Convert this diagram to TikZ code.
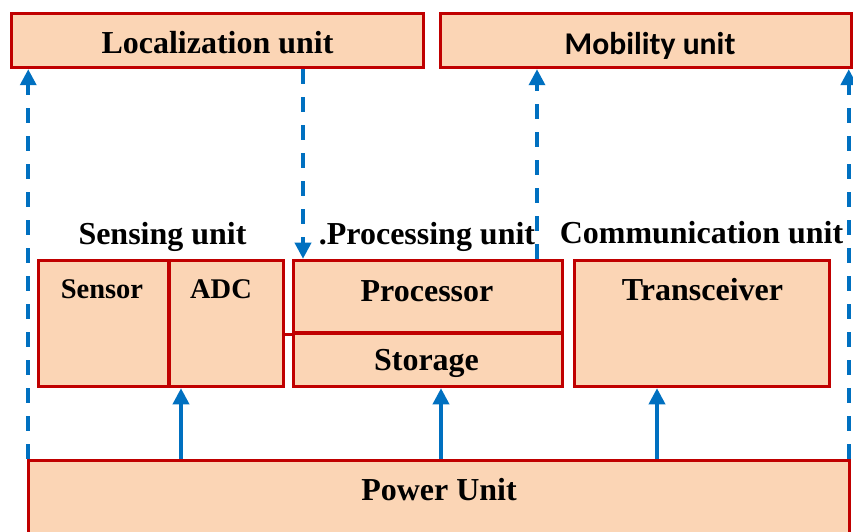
\documentclass[tikz,border=0pt]{standalone}
\usepackage{fontspec}
\setmainfont{Liberation Serif}
\newfontfamily\calibrifont{Carlito}
\usetikzlibrary{arrows.meta,positioning}
\definecolor{unit_red}{RGB}{192,0,0}
\definecolor{unit_fill}{RGB}{251,213,181}
\definecolor{link_blue}{RGB}{0,112,192}

\begin{document}
\begin{tikzpicture}[font=\fontsize{18.2}{22}\selectfont\bfseries,
          blk/.style={draw=unit_red, fill=unit_fill, line width=0.07cm, inner sep=0pt},
          lbl/.style={anchor=base, inner sep=0pt},
          pwr/.style={draw=link_blue, line width=0.07cm, -{Triangle[width=0.32cm,length=0.32cm]}},
          ctl/.style={pwr, dash pattern=on 0.3cm off 0.26cm}]
        \useasboundingbox (0,0) rectangle (17.06,10.62);
        % top row
        \node[blk, minimum width=8.24cm, minimum height=1.08cm] (loc) at (4.35,9.81) {};
        \node[blk, minimum width=8.22cm, minimum height=1.08cm] (mob) at (12.92,9.81) {};
        % middle row
        \node[blk, minimum width=2.6cm, minimum height=2.52cm]  (sensor)    at (2.07,4.15) {};
        \node[blk, minimum width=2.28cm, minimum height=2.52cm] (adc)       at (4.53,4.15) {};
        \node[blk, minimum width=5.38cm, minimum height=1.45cm] (processor) at (8.56,4.685) {};
        \node[blk, minimum width=5.38cm, minimum height=1.07cm] (storage)   at (8.56,3.425) {};
        \node[blk, minimum width=5.1cm, minimum height=2.52cm]  (comm)      at (14.04,4.15) {};
        % bottom row
        \node[blk, minimum width=16.42cm, minimum height=2cm] (power) at (8.78,0.41) {};
        \draw[unit_red, line width=0.07cm] (adc.east |- processor.south) -- (processor.south west);
        % texts
        \node[lbl] (loctxt)  at (4.35,9.54) {Localization unit};
        \node[lbl, font=\calibrifont\fontsize{18}{22}\selectfont\bfseries] (mobtxt) at (13.0,9.52) {Mobility unit};
        \node[lbl] (senstitle) at (3.25,5.72)  {Sensing unit};
        \node[lbl] (proctitle) at (8.54,5.72)  {.Processing unit};
        \node[lbl] (commtitle) at (14.03,5.74) {Communication unit};
        \node[lbl, font=\fontsize{16.2}{20}\selectfont\bfseries] (sensortxt) at (2.04,4.64) {Sensor};
        \node[lbl, font=\fontsize{16.2}{20}\selectfont\bfseries] (adctxt)    at (4.42,4.64) {ADC};
        \node[lbl] (proctxt) at (8.54,4.59) {Processor};
        \node[lbl] (stortxt) at (8.53,3.21) {Storage};
        \node[lbl] (tsvtxt)  at (14.05,4.6) {Transceiver};
        \node[lbl] (powtxt)  at (8.78,0.62) {Power Unit};
        % power supply
        \draw[pwr] ([xshift=-0.91cm]adc.south |- power.north) -- ([xshift=-0.91cm]adc.south);
        \draw[pwr] ([xshift=0.26cm]storage.south |- power.north) -- ([xshift=0.26cm]storage.south);
        \draw[pwr] ([xshift=-0.9cm]comm.south |- power.north) -- ([xshift=-0.9cm]comm.south);
        % dashed links
        \draw[ctl] ([xshift=0.03cm]power.north west) -- ([xshift=0.03cm]power.north west |- loc.south);
        \draw[ctl] ([xshift=-0.05cm]power.north east) -- ([xshift=-0.05cm]power.north east |- mob.south);
        \draw[ctl] ([xshift=0.225cm]processor.north west |- loc.south) -- ([xshift=0.225cm]processor.north west);
        \draw[ctl] ([xshift=-0.545cm]processor.north east) -- ([xshift=-0.545cm]processor.north east |- mob.south);
      \end{tikzpicture}
\end{document}
